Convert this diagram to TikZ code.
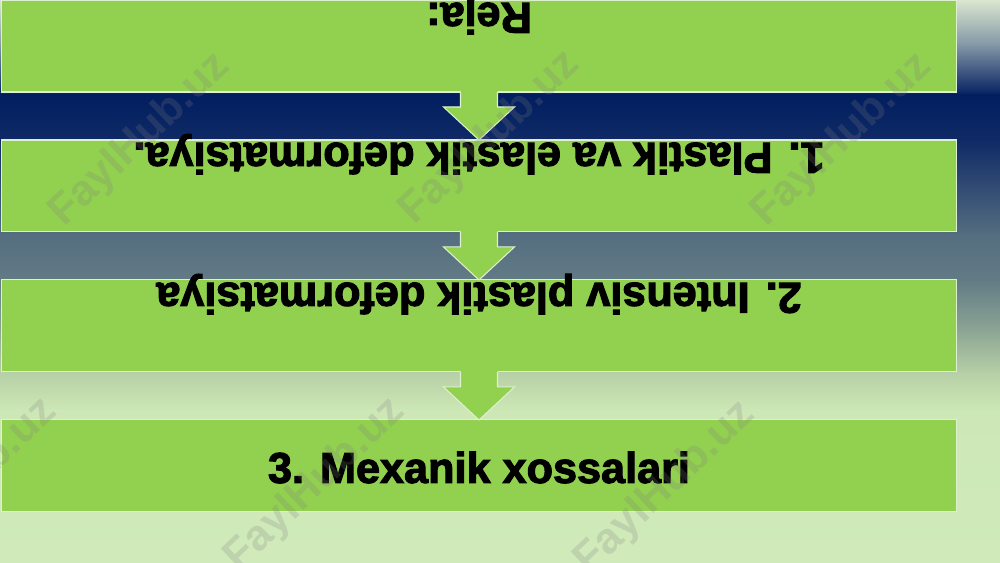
\documentclass[tikz,border=0pt]{standalone}
\usepackage{fontspec}
\setmainfont{Liberation Sans}
\newfontfamily\blok{Liberation Sans Bold}[FakeBold=2.5]
\usetikzlibrary{positioning,calc}

\definecolor{boxgreen}{RGB}{146,208,80}
\definecolor{boxedge}{RGB}{222,240,205}
\definecolor{bgA}{RGB}{218,230,208}
\definecolor{bgB}{RGB}{130,150,165}
\definecolor{bgC}{RGB}{2,30,95}
\definecolor{bgD}{RGB}{15,42,102}
\definecolor{bgE}{RGB}{85,110,128}
\definecolor{bgF}{RGB}{98,123,133}
\definecolor{bgG}{RGB}{140,165,148}
\definecolor{bgH}{RGB}{182,207,166}
\definecolor{bgI}{RGB}{205,232,182}
\definecolor{bgJ}{RGB}{208,234,186}

\begin{document}
\begin{tikzpicture}[x=0.02cm,y=0.02cm,
  box/.style={draw=boxedge,line width=0.6pt,fill=boxgreen,minimum width=19.12cm,minimum height=1.84cm,inner sep=0pt,outer sep=0pt},
  punkt/.style={font=\fontsize{24.6}{29}\selectfont\blok,inner sep=0pt,anchor=base},
  flip/.style={punkt,rotate=180},
  belgi/.style={font=\fontsize{24.6}{29}\selectfont\bfseries,text=gray,opacity=0.22,rotate=43.5}]
\useasboundingbox (0,0) rectangle (1000,562);
\clip (0,0) rectangle (1000,562);
% fon
\foreach \ya/\yb/\ca/\cb in {562/517/bgA/bgB,517/467/bgB/bgC,467/422/bgC/bgD,422/327/bgD/bgE,327/282/bgE/bgF,282/232/bgF/bgG,232/190/bgG/bgH,190/152/bgH/bgI,152/0/bgI/bgJ}
  \shade[top color=\ca,bottom color=\cb] (0,\yb-1) rectangle (1000,\ya);
% bloklar
\node[box] (reja) at (479,516) {};
\node[box,below=0.96cm of reja] (p1) {};
\node[box,below=0.96cm of p1] (p2) {};
\node[box,below=0.96cm of p2] (p3) {};
% strelkalar
\foreach \a/\b in {reja/p1,p1/p2,p2/p3}{
  \fill[boxgreen] ($(\a.south)+(-18.5,1)$) -- ++(0,-16) -- ++(-17,0) -- (\b.north)
    -- ($(\a.south)+(35.5,-15)$) -- ++(-17,0) -- ++(0,16) -- cycle;
  \draw[boxedge,line width=0.6pt] ($(\a.south)+(-18.5,0)$) -- ++(0,-15) -- ++(-17,0) -- (\b.north)
    -- ($(\a.south)+(35.5,-15)$) -- ++(-17,0) -- ++(0,15);
}
\node[flip] (t0) at ($(reja.north)+(0,-3)$) {Reja:};
\node[flip] (t1) at ($(p1.north)+(0,-3)$) {1. Plastik va elastik deformatsiya.};
\node[flip] (t2) at ($(p2.north)+(0,-3)$) {2. Intensiv plastik deformatsiya};
\node[punkt] (t3) at ($(p3.south)+(0,29)$) {3. Mexanik xossalari};
% belgilar
\foreach \wx/\wy [count=\i] in {140/422,490/424,842/422,-33/77,315/77,665/74}
  \node[belgi] (w\i) at (\wx,\wy) {FaylHub.uz};
\end{tikzpicture}
\end{document}
